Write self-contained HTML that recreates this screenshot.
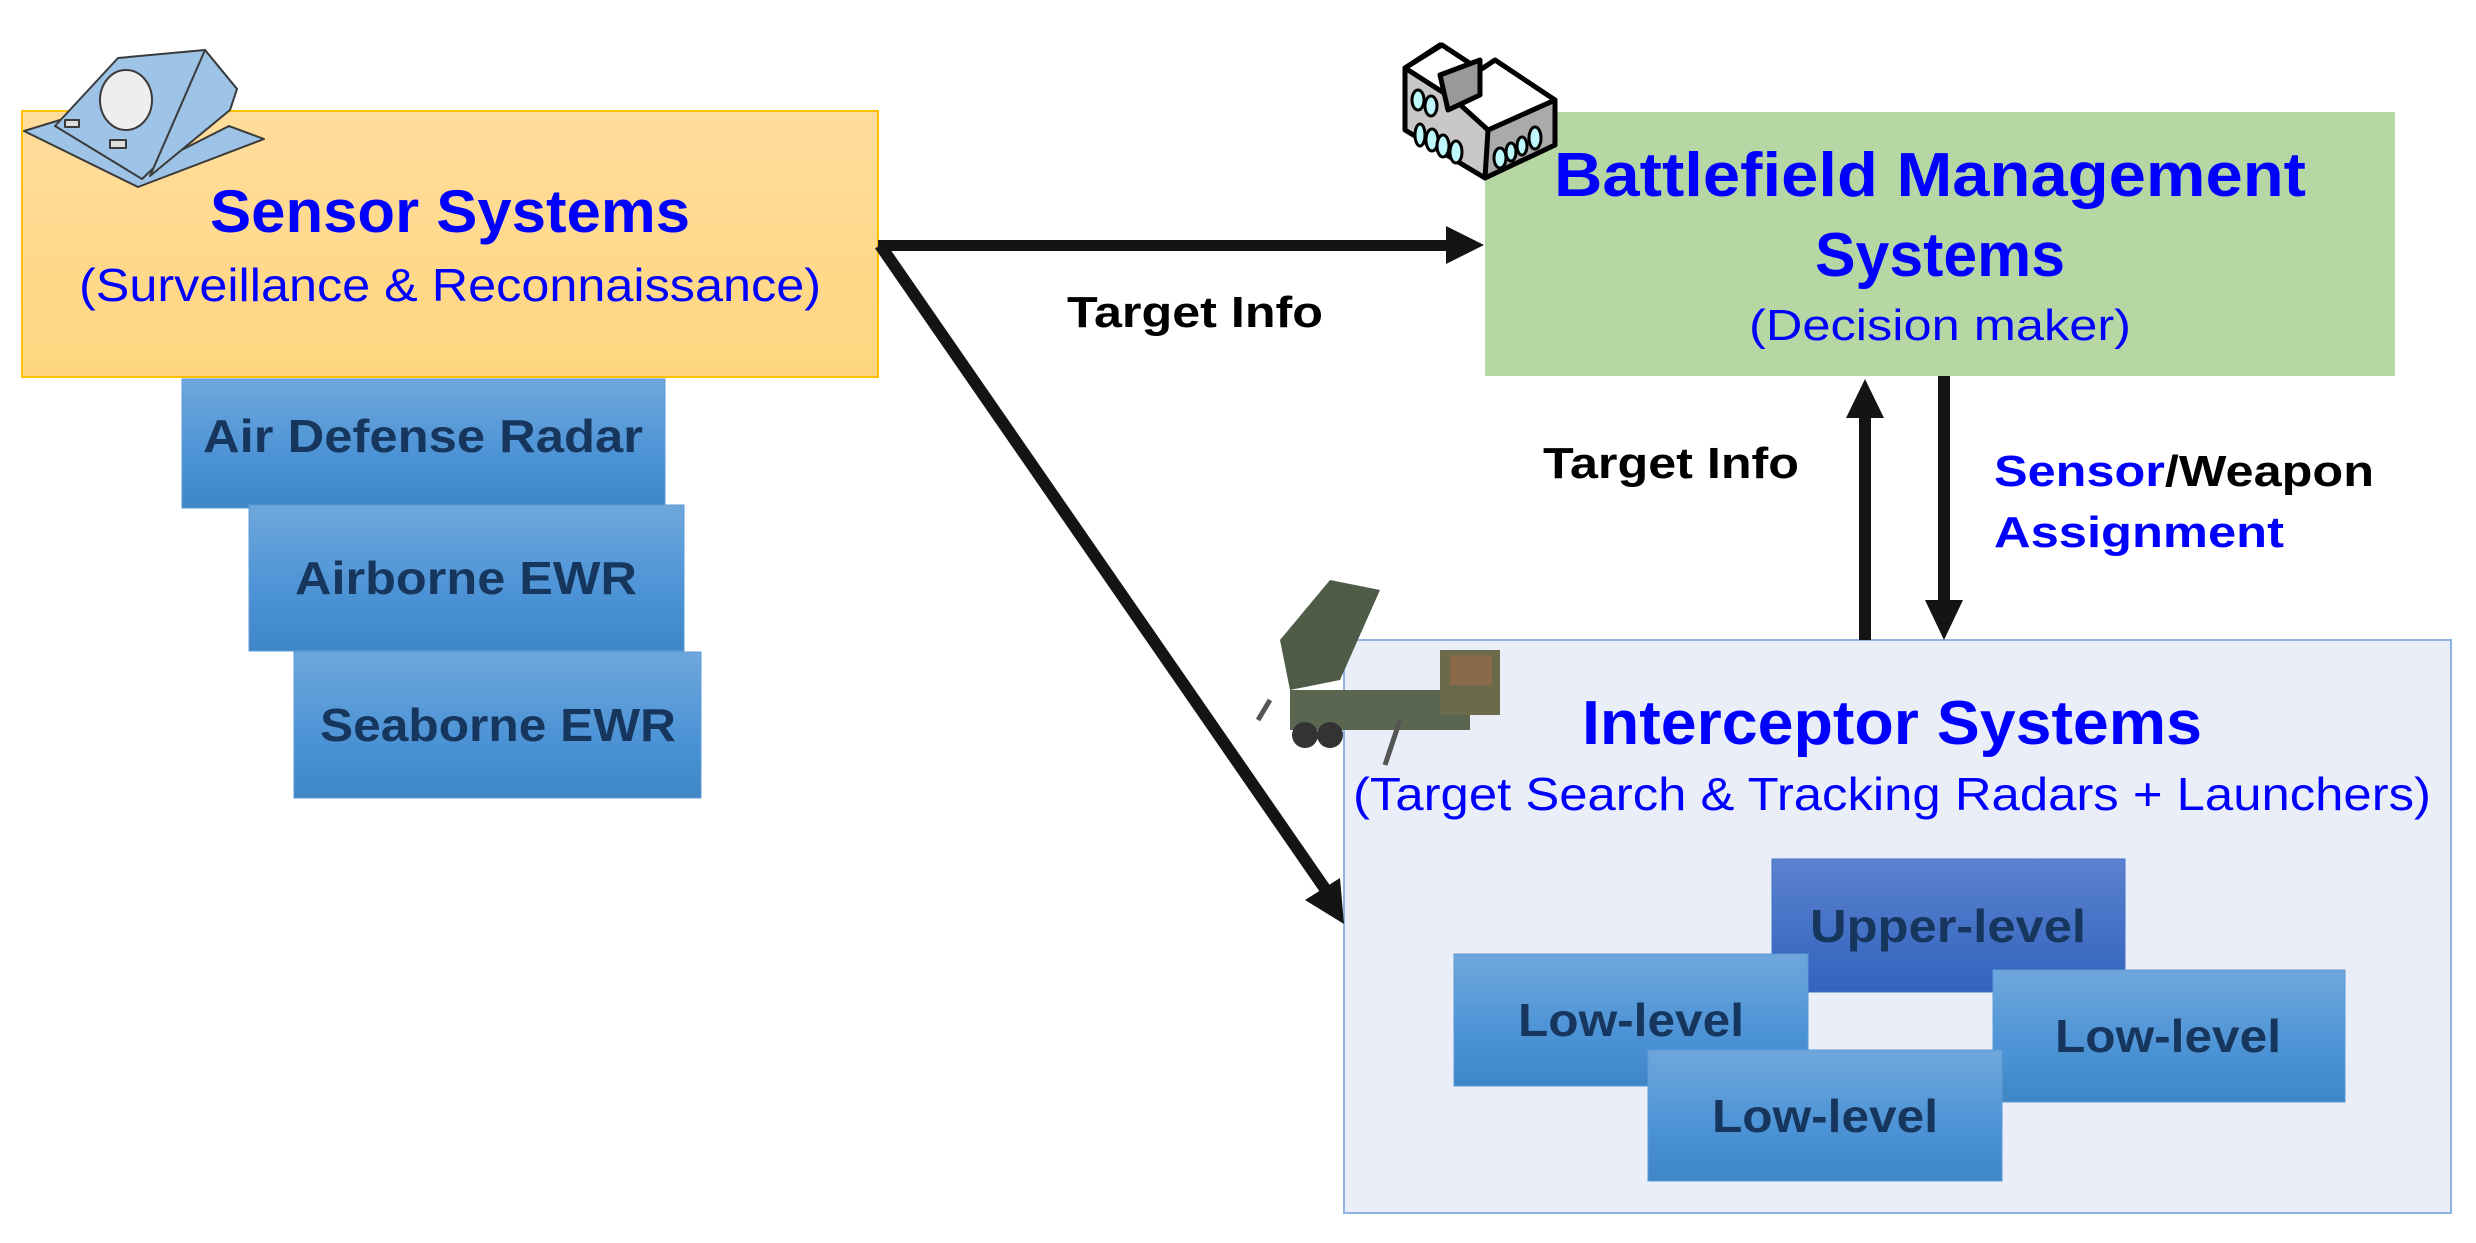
<!DOCTYPE html>
<html><head><meta charset="utf-8"><style>
html,body{margin:0;padding:0;background:#fff;}
svg{display:block;}
text{font-family:"Liberation Sans",sans-serif;}
</style></head><body>
<svg width="2476" height="1243" viewBox="0 0 2476 1243" xmlns="http://www.w3.org/2000/svg">
<defs>
<linearGradient id="gs" x1="0" y1="0" x2="0" y2="1"><stop offset="0" stop-color="#FFDD9C"/><stop offset="1" stop-color="#FFD57F"/></linearGradient>
<linearGradient id="gb" x1="0" y1="0" x2="0" y2="1"><stop offset="0" stop-color="#6FA7DC"/><stop offset="0.6" stop-color="#4C93D6"/><stop offset="1" stop-color="#3F86C6"/></linearGradient>
<linearGradient id="gu" x1="0" y1="0" x2="0" y2="1"><stop offset="0" stop-color="#5B82CF"/><stop offset="1" stop-color="#3263BE"/></linearGradient>
</defs>
<!-- Sensor box -->
<rect x="22" y="111" width="856" height="266" fill="url(#gs)" stroke="#FFC000" stroke-width="2"/>
<text x="450" y="232" font-size="60" font-weight="bold" fill="#0000FF" text-anchor="middle" textLength="480" lengthAdjust="spacingAndGlyphs">Sensor Systems</text>
<text x="450" y="301" font-size="46" fill="#0000FF" text-anchor="middle" textLength="742" lengthAdjust="spacingAndGlyphs">(Surveillance &amp; Reconnaissance)</text>
<!-- radar icon -->
<g stroke="#3a3a3a" stroke-width="2" fill="#9DC3E6" stroke-linejoin="round">
<polygon points="24,131 138,187 264,139 229,126 142,170 60,120"/>
<polygon points="118,58 205,50 237,89 142,179 55,126"/>
<polygon points="205,50 237,89 230,110 150,176"/>
<ellipse cx="126" cy="100" rx="26" ry="30" fill="#eee"/>
<rect x="65" y="120" width="14" height="7" fill="#ddd"/>
<rect x="110" y="140" width="16" height="8" fill="#ddd"/>
</g>
<!-- sensor sub boxes -->
<rect x="182" y="379" width="483" height="129" fill="url(#gb)" stroke="#5B9BD5" stroke-width="1"/>
<text x="423" y="452" font-size="46" font-weight="bold" fill="#17365D" text-anchor="middle" textLength="440" lengthAdjust="spacingAndGlyphs">Air Defense Radar</text>
<rect x="249" y="505" width="435" height="146" fill="url(#gb)" stroke="#5B9BD5" stroke-width="1"/>
<text x="466" y="594" font-size="46" font-weight="bold" fill="#17365D" text-anchor="middle" textLength="342" lengthAdjust="spacingAndGlyphs">Airborne EWR</text>
<rect x="294" y="652" width="407" height="146" fill="url(#gb)" stroke="#5B9BD5" stroke-width="1"/>
<text x="498" y="741" font-size="46" font-weight="bold" fill="#17365D" text-anchor="middle" textLength="356" lengthAdjust="spacingAndGlyphs">Seaborne EWR</text>
<!-- BMS box -->
<rect x="1485" y="112" width="910" height="264" fill="#B6D7A3"/>
<text x="1930" y="196" font-size="62" font-weight="bold" fill="#0000FF" text-anchor="middle" textLength="752" lengthAdjust="spacingAndGlyphs">Battlefield Management</text>
<text x="1940" y="276" font-size="62" font-weight="bold" fill="#0000FF" text-anchor="middle" textLength="250" lengthAdjust="spacingAndGlyphs">Systems</text>
<text x="1940" y="340" font-size="44" fill="#0000FF" text-anchor="middle" textLength="382" lengthAdjust="spacingAndGlyphs">(Decision maker)</text>
<!-- building icon -->
<g stroke="#000" stroke-width="5" stroke-linejoin="round">
<polygon points="1405,68 1440,45 1488,88 1488,150 1485,178 1405,130" fill="#c8c8c8"/>
<polygon points="1488,130 1555,100 1555,145 1485,178" fill="#aaa"/>
<polygon points="1405,68 1442,45 1480,70 1495,60 1555,100 1488,130 1455,100" fill="#fff"/>
<polygon points="1440,75 1480,60 1480,95 1448,110" fill="#999"/>
</g>
<g fill="#BFF8FA" stroke="#000" stroke-width="3">
<ellipse cx="1418" cy="100" rx="6" ry="10"/><ellipse cx="1431" cy="106" rx="6" ry="10"/>
<ellipse cx="1420" cy="135" rx="5" ry="11"/><ellipse cx="1432" cy="140" rx="6" ry="11"/><ellipse cx="1443" cy="146" rx="6" ry="11"/><ellipse cx="1456" cy="152" rx="6" ry="11"/>
<ellipse cx="1500" cy="158" rx="6" ry="10"/><ellipse cx="1511" cy="152" rx="5" ry="9"/><ellipse cx="1522" cy="146" rx="5" ry="9"/><ellipse cx="1535" cy="138" rx="6" ry="11"/>
</g>
<!-- Interceptor box -->
<rect x="1344" y="640" width="1107" height="573" fill="#E9EEF8" stroke="#8EB4E3" stroke-width="2"/>
<text x="1892" y="744" font-size="62" font-weight="bold" fill="#0000FF" text-anchor="middle" textLength="620" lengthAdjust="spacingAndGlyphs">Interceptor Systems</text>
<text x="1892" y="810" font-size="46" fill="#0000FF" text-anchor="middle" textLength="1078" lengthAdjust="spacingAndGlyphs">(Target Search &amp; Tracking Radars + Launchers)</text>
<!-- launcher icon -->
<g>
<polygon points="1280,640 1330,580 1380,590 1340,680 1290,690" fill="#4d5b47"/>
<rect x="1290" y="690" width="180" height="40" fill="#5a6650"/>
<rect x="1440" y="650" width="60" height="65" fill="#6b6a4a"/>
<rect x="1450" y="655" width="42" height="30" fill="#8a6a4a"/>
<circle cx="1305" cy="735" r="13" fill="#333"/><circle cx="1330" cy="735" r="13" fill="#333"/>
<line x1="1270" y1="700" x2="1258" y2="720" stroke="#555" stroke-width="5"/>
<line x1="1400" y1="720" x2="1385" y2="765" stroke="#555" stroke-width="5"/>
</g>
<!-- level boxes -->
<rect x="1772" y="859" width="353" height="133" fill="url(#gu)" stroke="#4472C4" stroke-width="1"/>
<text x="1948" y="942" font-size="46" font-weight="bold" fill="#17365D" text-anchor="middle" textLength="276" lengthAdjust="spacingAndGlyphs">Upper-level</text>
<rect x="1454" y="954" width="354" height="132" fill="url(#gb)" stroke="#5B9BD5" stroke-width="1"/>
<text x="1631" y="1036" font-size="46" font-weight="bold" fill="#17365D" text-anchor="middle" textLength="226" lengthAdjust="spacingAndGlyphs">Low-level</text>
<rect x="1993" y="970" width="352" height="132" fill="url(#gb)" stroke="#5B9BD5" stroke-width="1"/>
<text x="2168" y="1052" font-size="46" font-weight="bold" fill="#17365D" text-anchor="middle" textLength="226" lengthAdjust="spacingAndGlyphs">Low-level</text>
<rect x="1648" y="1050" width="354" height="131" fill="url(#gb)" stroke="#5B9BD5" stroke-width="1"/>
<text x="1825" y="1132" font-size="46" font-weight="bold" fill="#17365D" text-anchor="middle" textLength="226" lengthAdjust="spacingAndGlyphs">Low-level</text>
<!-- arrows -->
<g fill="#141414" stroke="none">
<polygon points="878,240 1446,240 1446,226 1484,245 1446,264 1446,251 878,251"/>
<line x1="880" y1="245" x2="1330" y2="896" stroke="#141414" stroke-width="12"/>
<polygon points="1344,924 1305,900 1340,878"/>
<rect x="1859" y="416" width="12" height="224"/>
<polygon points="1865,379 1846,418 1884,418"/>
<rect x="1938" y="376" width="12" height="226"/>
<polygon points="1944,640 1925,600 1963,600"/>
</g>
<text x="1195" y="327" font-size="44" font-weight="bold" fill="#000" text-anchor="middle" textLength="256" lengthAdjust="spacingAndGlyphs">Target Info</text>
<text x="1671" y="478" font-size="44" font-weight="bold" fill="#000" text-anchor="middle" textLength="256" lengthAdjust="spacingAndGlyphs">Target Info</text>
<text x="1994" y="486" font-size="44" font-weight="bold" fill="#0000FF" textLength="380" lengthAdjust="spacingAndGlyphs">Sensor<tspan fill="#000">/Weapon</tspan></text>
<text x="1994" y="547" font-size="44" font-weight="bold" fill="#0000FF" textLength="290" lengthAdjust="spacingAndGlyphs">Assignment</text>
</svg>
</body></html>
